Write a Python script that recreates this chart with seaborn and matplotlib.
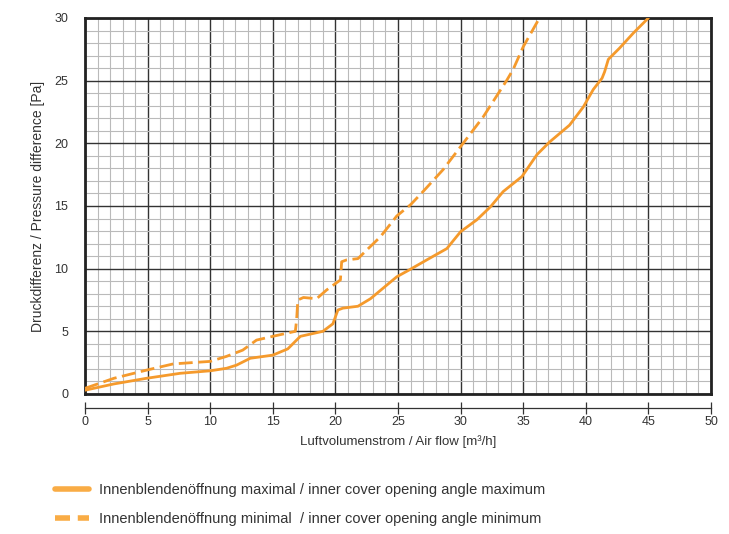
import pandas as pd
import matplotlib.pyplot as plt
import seaborn as sns
from matplotlib.lines import Line2D
from matplotlib.ticker import MultipleLocator

# data
max_x = [0, 2.3, 4.9, 7.6, 10.0, 11.3, 12.1, 13.2, 15.0, 16.2, 17.2, 19.0, 19.8, 20.2, 20.6,
         21.8, 22.8, 24.9, 25.9, 27.3, 28.9, 30.0, 31.3, 32.4, 33.4, 34.9, 36.1, 37.1, 38.7,
         39.8, 40.6, 41.3, 41.5, 41.8, 42.7, 43.8, 45.0]
max_y = [0.3, 0.8, 1.25, 1.65, 1.85, 2.05, 2.3, 2.85, 3.1, 3.6, 4.6, 5.0, 5.6, 6.7, 6.85,
         7.0, 7.6, 9.35, 9.9, 10.7, 11.6, 12.95, 13.9, 14.95, 16.15, 17.35, 19.1, 20.1, 21.45,
         22.9, 24.3, 25.2, 25.7, 26.7, 27.6, 28.8, 30.0]

min_x = [0, 2.3, 4.9, 7.05, 10.0, 11.3, 12.6, 13.7, 15.0, 16.8, 16.9, 17.0, 17.45, 18.5,
         19.3, 20.4, 20.5, 20.9, 21.8, 23.6, 24.9, 26.0, 27.0, 28.6, 30.2, 31.8, 33.7, 34.2,
         35.0, 36.3]
min_y = [0.45, 1.25, 1.9, 2.4, 2.6, 3.0, 3.5, 4.3, 4.6, 5.0, 5.9, 7.5, 7.7, 7.6,
         8.3, 9.1, 10.55, 10.7, 10.8, 12.55, 14.2, 15.1, 16.15, 17.9, 20.0, 22.1, 25.05, 25.9,
         27.7, 30.0]

x_ticks = [0, 5, 10, 15, 20, 25, 30, 35, 40, 45, 50]
y_ticks = [0, 5, 10, 15, 20, 25, 30]

label_max = "Innenblendenöffnung maximal / inner cover opening angle maximum"
label_min = "Innenblendenöffnung minimal  / inner cover opening angle minimum"

df = pd.concat([
    pd.DataFrame({"x": max_x, "y": max_y, "serie": label_max}),
    pd.DataFrame({"x": min_x, "y": min_y, "serie": label_min}),
])

sns.set_theme(style="white")
plt.rcParams['font.family'] = ['Liberation Sans', 'DejaVu Sans']

orange = "#f59a2c"
fig = plt.figure(figsize=(7.29, 5.34), dpi=100)
ax = fig.add_axes([0.1166, 0.2622, 0.8587, 0.7041])

sns.lineplot(data=df, x="x", y="y", hue="serie", style="serie",
             palette={label_max: orange, label_min: orange},
             dashes={label_max: "", label_min: (5, 2)},
             sort=False, estimator=None, linewidth=2.0, legend=False, ax=ax, zorder=5)

ax.set_xlim(0, 50)
ax.set_ylim(0, 30)
ax.set_xticks(x_ticks)
ax.set_yticks(y_ticks)
ax.xaxis.set_minor_locator(MultipleLocator(1))
ax.yaxis.set_minor_locator(MultipleLocator(1))
ax.grid(which="minor", color="#bababa", linewidth=0.8)
ax.grid(which="major", color="#333333", linewidth=1.0)
ax.set_axisbelow(True)
for s in ax.spines.values():
    s.set_visible(True)
    s.set_color("#222222")
    s.set_linewidth(2.0)

ax.tick_params(axis="x", which="both", bottom=False, labelbottom=False)
ax.tick_params(axis="y", which="both", left=False, length=0, pad=12, labelsize=9, colors="#333333")
ax.set_xlabel("")
ax.set_ylabel("Druckdifferenz / Pressure difference [Pa]", fontsize=10, color="#333333", labelpad=7)

# separate x axis line below the box
sec = ax.secondary_xaxis(-0.037)
sec.set_xticks(x_ticks)
sec.spines["bottom"].set_color("#333333")
sec.spines["bottom"].set_linewidth(0.9)
sec.tick_params(axis="x", direction="inout", length=8, width=0.9, color="#333333",
                labelsize=9, labelcolor="#333333", pad=2)
sec.set_xlabel("Luftvolumenstrom / Air flow [m³/h]", fontsize=9.5, color="#333333", labelpad=5)

handles = [Line2D([0], [0], color="#f9ac45", lw=4),
           Line2D([0], [0], color="#f9ac45", lw=4, dashes=(2.7, 1.4))]
fig.legend(handles, [label_max, label_min], loc="upper left", bbox_to_anchor=(0.058, 0.12),
           frameon=False, fontsize=10.5, handlelength=2.3, handletextpad=0.7,
           labelspacing=1.0, labelcolor="#333333")

plt.savefig("out.png", dpi=100)
